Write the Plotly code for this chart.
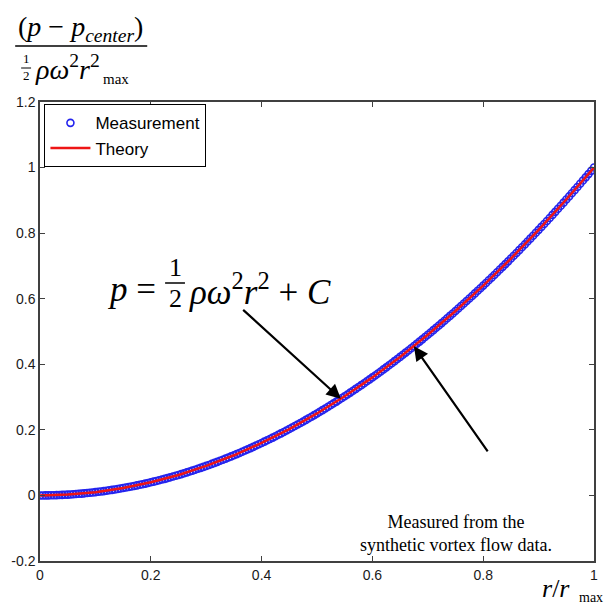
import plotly.graph_objects as go

# Normalised radius and normalised pressure of the synthetic vortex data
# (samples on whole hundredths and on the half-hundredths in between)
r_meas_a = [0.00, 0.01, 0.02, 0.03, 0.04, 0.05, 0.06, 0.07, 0.08, 0.09,
            0.10, 0.11, 0.12, 0.13, 0.14, 0.15, 0.16, 0.17, 0.18, 0.19,
            0.20, 0.21, 0.22, 0.23, 0.24, 0.25, 0.26, 0.27, 0.28, 0.29,
            0.30, 0.31, 0.32, 0.33, 0.34, 0.35, 0.36, 0.37, 0.38, 0.39,
            0.40, 0.41, 0.42, 0.43, 0.44, 0.45, 0.46, 0.47, 0.48, 0.49,
            0.50, 0.51, 0.52, 0.53, 0.54, 0.55, 0.56, 0.57, 0.58, 0.59,
            0.60, 0.61, 0.62, 0.63, 0.64, 0.65, 0.66, 0.67, 0.68, 0.69,
            0.70, 0.71, 0.72, 0.73, 0.74, 0.75, 0.76, 0.77, 0.78, 0.79,
            0.80, 0.81, 0.82, 0.83, 0.84, 0.85, 0.86, 0.87, 0.88, 0.89,
            0.90, 0.91, 0.92, 0.93, 0.94, 0.95, 0.96, 0.97, 0.98, 0.99, 1.00]
p_meas_a = [0.0000, 0.0001, 0.0004, 0.0009, 0.0016, 0.0025, 0.0036, 0.0049, 0.0064, 0.0081,
            0.0100, 0.0121, 0.0144, 0.0169, 0.0196, 0.0225, 0.0256, 0.0289, 0.0324, 0.0361,
            0.0400, 0.0441, 0.0484, 0.0529, 0.0576, 0.0625, 0.0676, 0.0729, 0.0784, 0.0841,
            0.0900, 0.0961, 0.1024, 0.1089, 0.1156, 0.1225, 0.1296, 0.1369, 0.1444, 0.1521,
            0.1600, 0.1681, 0.1764, 0.1849, 0.1936, 0.2025, 0.2116, 0.2209, 0.2304, 0.2401,
            0.2500, 0.2601, 0.2704, 0.2809, 0.2916, 0.3025, 0.3136, 0.3249, 0.3364, 0.3481,
            0.3600, 0.3721, 0.3844, 0.3969, 0.4096, 0.4225, 0.4356, 0.4489, 0.4624, 0.4761,
            0.4900, 0.5041, 0.5184, 0.5329, 0.5476, 0.5625, 0.5776, 0.5929, 0.6084, 0.6241,
            0.6400, 0.6561, 0.6724, 0.6889, 0.7056, 0.7225, 0.7396, 0.7569, 0.7744, 0.7921,
            0.8100, 0.8281, 0.8464, 0.8649, 0.8836, 0.9025, 0.9216, 0.9409, 0.9604, 0.9801, 1.0000]
r_meas_b = [0.005, 0.015, 0.025, 0.035, 0.045, 0.055, 0.065, 0.075, 0.085, 0.095,
            0.105, 0.115, 0.125, 0.135, 0.145, 0.155, 0.165, 0.175, 0.185, 0.195,
            0.205, 0.215, 0.225, 0.235, 0.245, 0.255, 0.265, 0.275, 0.285, 0.295,
            0.305, 0.315, 0.325, 0.335, 0.345, 0.355, 0.365, 0.375, 0.385, 0.395,
            0.405, 0.415, 0.425, 0.435, 0.445, 0.455, 0.465, 0.475, 0.485, 0.495,
            0.505, 0.515, 0.525, 0.535, 0.545, 0.555, 0.565, 0.575, 0.585, 0.595,
            0.605, 0.615, 0.625, 0.635, 0.645, 0.655, 0.665, 0.675, 0.685, 0.695,
            0.705, 0.715, 0.725, 0.735, 0.745, 0.755, 0.765, 0.775, 0.785, 0.795,
            0.805, 0.815, 0.825, 0.835, 0.845, 0.855, 0.865, 0.875, 0.885, 0.895,
            0.905, 0.915, 0.925, 0.935, 0.945, 0.955, 0.965, 0.975, 0.985, 0.995]
p_meas_b = [0.0000, 0.0002, 0.0006, 0.0012, 0.0020, 0.0030, 0.0042, 0.0056, 0.0072, 0.0090,
            0.0110, 0.0132, 0.0156, 0.0182, 0.0210, 0.0240, 0.0272, 0.0306, 0.0342, 0.0380,
            0.0420, 0.0462, 0.0506, 0.0552, 0.0600, 0.0650, 0.0702, 0.0756, 0.0812, 0.0870,
            0.0930, 0.0992, 0.1056, 0.1122, 0.1190, 0.1260, 0.1332, 0.1406, 0.1482, 0.1560,
            0.1640, 0.1722, 0.1806, 0.1892, 0.1980, 0.2070, 0.2162, 0.2256, 0.2352, 0.2450,
            0.2550, 0.2652, 0.2756, 0.2862, 0.2970, 0.3080, 0.3192, 0.3306, 0.3422, 0.3540,
            0.3660, 0.3782, 0.3906, 0.4032, 0.4160, 0.4290, 0.4422, 0.4556, 0.4692, 0.4830,
            0.4970, 0.5112, 0.5256, 0.5402, 0.5550, 0.5700, 0.5852, 0.6006, 0.6162, 0.6320,
            0.6480, 0.6642, 0.6806, 0.6972, 0.7140, 0.7310, 0.7482, 0.7656, 0.7832, 0.8010,
            0.8190, 0.8372, 0.8556, 0.8742, 0.8930, 0.9120, 0.9312, 0.9506, 0.9702, 0.9900]

# Theoretical curve p = 1/2 rho omega^2 r^2 + C (normalised)
r_theory = [0.00, 0.05, 0.10, 0.15, 0.20, 0.25, 0.30, 0.35, 0.40, 0.45, 0.50,
            0.55, 0.60, 0.65, 0.70, 0.75, 0.80, 0.85, 0.90, 0.95, 1.00]
p_theory = [0.0000, 0.0025, 0.0100, 0.0225, 0.0400, 0.0625, 0.0900, 0.1225, 0.1600, 0.2025, 0.2500,
            0.3025, 0.3600, 0.4225, 0.4900, 0.5625, 0.6400, 0.7225, 0.8100, 0.9025, 1.0000]

x_ticks = [0, 0.2, 0.4, 0.6, 0.8, 1]
x_tick_text = ["0", "0.2", "0.4", "0.6", "0.8", "1"]
y_ticks = [-0.2, 0, 0.2, 0.4, 0.6, 0.8, 1, 1.2]
y_tick_text = ["-0.2", "0", "0.2", "0.4", "0.6", "0.8", "1", "1.2"]

W, H = 608, 604
L, R, T, B = 40, 10, 102, 43
PW, PH = W - L - R, H - T - B


def px(x):
    return (x - L) / PW


def py(y):
    return (H - B - y) / PH


SERIF = "Liberation Serif, Times New Roman, serif"
SANS = "Liberation Sans, Arial, sans-serif"

fig = go.Figure()
fig.add_trace(go.Scatter(
    x=r_meas_a + r_meas_b, y=p_meas_a + p_meas_b, mode="markers", name="Measurement",
    marker=dict(symbol="circle-open", size=7, color="#2424ee", line=dict(width=1.6)),
))
fig.add_trace(go.Scatter(
    x=r_theory, y=p_theory, mode="lines", name="Theory",
    line=dict(color="#ee1515", width=2.5),
))

axis_common = dict(
    showline=True, linewidth=1.5, linecolor="#404040", mirror="ticks",
    ticks="inside", ticklen=5, tickwidth=1, tickcolor="#404040",
    showgrid=False, zeroline=False,
    tickfont=dict(family=SANS, size=14, color="#1a1a1a"),
)
fig.update_xaxes(range=[0, 1], tickvals=x_ticks, ticktext=x_tick_text, **axis_common)
fig.update_yaxes(range=[-0.2, 1.2], tickvals=y_ticks, ticktext=y_tick_text, **axis_common)


def label(x, y, text, size, xanchor="center"):
    return dict(x=px(x), y=py(y), xref="paper", yref="paper", showarrow=False,
                xanchor=xanchor, yanchor="middle", text=text,
                font=dict(family=SERIF, size=size, color="black"))


anns = [
    # y-axis label: (p - p_center) / (1/2 rho omega^2 r_max^2)
    label(16, 28, "(<i>p</i> − <i>p</i><sub><i>center</i></sub>)", 28, "left"),
    label(26, 59, "1", 13),
    label(26, 76, "2", 13),
    label(33, 68, "<i>ρω</i><sup>2</sup><i>r</i><sup>2</sup>", 28, "left"),
    label(101, 79, "max", 15, "left"),
    # x-axis label r / r_max
    label(544, 588, "<i>r</i>/<i>r</i>", 26, "left"),
    label(581, 597, "max", 14, "left"),
    # theory formula
    label(105, 289, "<i>p</i> =", 35, "left"),
    label(176, 267, "1", 26),
    label(176, 298, "2", 26),
    label(188, 289, "<i>ρω</i><sup>2</sup><i>r</i><sup>2</sup> + <i>C</i>", 35, "left"),
    # measurement note
    label(459, 533, "Measured from the<br>synthetic vortex flow data.", 18),
    # arrows pointing at the curve
    dict(x=0.543, y=0.295, ax=0.364, ay=0.57, xref="x", yref="y", axref="x", ayref="y",
         showarrow=True, arrowhead=2, arrowsize=1.3, arrowwidth=2.2, arrowcolor="black", text=""),
    dict(x=0.675, y=0.455, ax=0.81, ay=0.13, xref="x", yref="y", axref="x", ayref="y",
         showarrow=True, arrowhead=2, arrowsize=1.3, arrowwidth=2.2, arrowcolor="black", text=""),
]

shapes = [
    dict(type="line", xref="paper", yref="paper", x0=px(15), x1=px(148), y0=py(46), y1=py(46),
         line=dict(color="black", width=1.5)),
    dict(type="line", xref="paper", yref="paper", x0=px(21), x1=px(31), y0=py(68), y1=py(68),
         line=dict(color="black", width=1)),
    dict(type="line", xref="paper", yref="paper", x0=px(166), x1=px(186), y0=py(283), y1=py(283),
         line=dict(color="black", width=1.5)),
]

fig.update_layout(
    width=W, height=H, margin=dict(l=L, r=R, t=T, b=B),
    plot_bgcolor="white", paper_bgcolor="white",
    annotations=anns, shapes=shapes,
    legend=dict(x=0.008, y=0.995, xanchor="left", yanchor="top",
                bordercolor="black", borderwidth=1, bgcolor="white",
                font=dict(family=SANS, size=17, color="black"),
                itemwidth=40, tracegroupgap=0),
    showlegend=True,
)

fig.write_html("out.html")
